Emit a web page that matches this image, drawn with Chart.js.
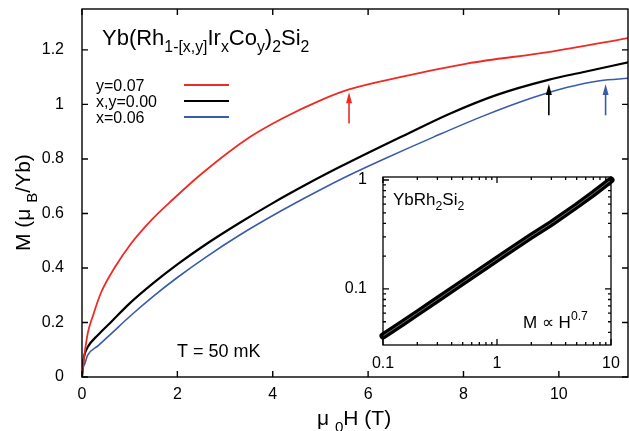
<!DOCTYPE html>
<html lang="en">
<head>
<meta charset="UTF-8">
<title>Yb(Rh,Ir,Co)2Si2 magnetization</title>
<style>
    body { margin: 0; padding: 0; background: #fff; }
    .wrap { position: relative; width: 629px; height: 431px; }
    #mainChart { position: absolute; left: 0; top: 0; }
    #insetChart { position: absolute; left: 340px; top: 168px; }
</style>
</head>
<body>
<div class="wrap">
    <canvas id="mainChart" width="629" height="431"></canvas>
    <canvas id="insetChart" width="285" height="205"></canvas>
</div>
<script src="https://cdn.jsdelivr.net/npm/chart.js"></script>
<script>
// main panel: M vs mu0H at T = 50 mK
const fieldCo = [0, 0.02, 0.05, 0.12, 0.23, 0.4, 0.68, 1.03, 1.45, 1.91, 2.54, 3.52, 4.22, 5.0, 5.6, 6.67, 8.07, 9.81, 11.47];
const momentCo = [0, 0.035, 0.08, 0.16, 0.225, 0.31, 0.40, 0.49, 0.575, 0.652, 0.75, 0.88, 0.95, 1.015, 1.055, 1.10, 1.15, 1.193, 1.244];

const fieldPure = [0, 0.02, 0.05, 0.12, 0.34, 0.6, 1.0, 1.5, 2.0, 2.6, 3.3, 4.0, 4.7, 5.4, 6.1, 6.8, 7.7, 8.7, 9.78, 10.5, 11.47];
const momentPure = [0, 0.05, 0.08, 0.11, 0.155, 0.20, 0.27, 0.345, 0.413, 0.487, 0.565, 0.638, 0.706, 0.77, 0.831, 0.89, 0.965, 1.035, 1.09, 1.118, 1.155];

const fieldIr = [0, 0.02, 0.06, 0.12, 0.34, 0.62, 1.0, 1.5, 2.0, 2.6, 3.3, 4.15, 4.9, 5.6, 6.3, 7.37, 8.41, 9.46, 10.16, 10.86, 11.47];
const momentIr = [0, 0.03, 0.05, 0.08, 0.115, 0.16, 0.222, 0.297, 0.365, 0.44, 0.52, 0.607, 0.678, 0.74, 0.797, 0.88, 0.957, 1.025, 1.062, 1.087, 1.096];

const seriesNames = ['y=0.07', 'x,y=0.00', 'x=0.06'];
const seriesColors = ['#ee2a24', '#000000', '#3a5ba9'];

const xTicks = [0, 2, 4, 6, 8, 10];
const yTicks = [0, 0.2, 0.4, 0.6, 0.8, 1, 1.2];
const yTickLabels = ['0', '0.2', '0.4', '0.6', '0.8', '1', '1.2'];

// arrows marking the kinks
const arrowField = [5.6, 9.79, 10.98];
const arrowFrom = [0.93, 0.96, 0.96];
const arrowTo = [1.045, 1.075, 1.075];

// inset: log-log of YbRh2Si2
const insetField = [0.1, 0.15, 0.2, 0.3, 0.5, 0.7, 1, 1.5, 2, 3, 5, 7, 10];
const insetMoment = [0.037, 0.049, 0.06, 0.08, 0.115, 0.146, 0.188, 0.25, 0.305, 0.40, 0.58, 0.75, 1.0];
const insetXTicks = [0.1, 1, 10];
const insetXLabels = ['0.1', '1', '10'];
const insetYTicks = [0.1, 1];
const insetYLabels = ['0.1', '1'];
const insetMinorX = [0.2, 0.3, 0.4, 0.5, 0.6, 0.7, 0.8, 0.9, 2, 3, 4, 5, 6, 7, 8, 9];
const insetMinorY = [0.04, 0.05, 0.06, 0.07, 0.08, 0.09, 0.2, 0.3, 0.4, 0.5, 0.6, 0.7, 0.8, 0.9];

const FONT = "'Liberation Sans', Arial, sans-serif";
Chart.defaults.font.family = FONT;
Chart.defaults.color = '#000';

const pts = (xs, ys) => xs.map((x, i) => ({ x: x, y: ys[i] }));

// text with sub/superscripts, parts = [[text, 'n'|'sub'|'sup'], ...]
function drawRich(ctx, x, y, parts, size) {
    parts.forEach(p => {
        let fs = size, dy = 0;
        if (p[1] === 'sub') { fs = size * 0.72; dy = size * 0.32; }
        if (p[1] === 'sup') { fs = size * 0.72; dy = -size * 0.45; }
        ctx.font = fs + 'px ' + FONT;
        ctx.fillText(p[0], x, y + dy);
        x += ctx.measureText(p[0]).width;
    });
}

// no automatic label padding, the chart area is set by layout padding alone
function noPad(s) {
    s.paddingTop = 0; s.paddingBottom = 0; s.paddingLeft = 0; s.paddingRight = 0;
}

const mainDecor = {
    id: 'mainDecor',
    afterDraw(chart) {
        const ctx = chart.ctx, a = chart.chartArea;
        const sx = chart.scales.x, sy = chart.scales.y;
        ctx.save();
        ctx.strokeStyle = '#000';
        ctx.lineWidth = 1.4;
        ctx.strokeRect(a.left, a.top, a.right - a.left, a.bottom - a.top);
        ctx.beginPath();
        xTicks.forEach(v => {
            const px = sx.getPixelForValue(v);
            ctx.moveTo(px, a.bottom); ctx.lineTo(px, a.bottom - 6);
            ctx.moveTo(px, a.top); ctx.lineTo(px, a.top + 6);
        });
        yTicks.forEach(v => {
            const py = sy.getPixelForValue(v);
            ctx.moveTo(a.left, py); ctx.lineTo(a.left + 6, py);
            ctx.moveTo(a.right, py); ctx.lineTo(a.right - 6, py);
        });
        ctx.stroke();

        // arrows
        arrowField.forEach((h, i) => {
            const px = sx.getPixelForValue(h);
            const y0 = sy.getPixelForValue(arrowFrom[i]);
            const y1 = sy.getPixelForValue(arrowTo[i]);
            ctx.strokeStyle = seriesColors[i];
            ctx.fillStyle = seriesColors[i];
            ctx.lineWidth = 1.6;
            ctx.beginPath();
            ctx.moveTo(px, y0); ctx.lineTo(px, y1 + 8);
            ctx.stroke();
            ctx.beginPath();
            ctx.moveTo(px, y1); ctx.lineTo(px - 3, y1 + 11); ctx.lineTo(px + 3, y1 + 11);
            ctx.closePath();
            ctx.fill();
        });

        // title
        ctx.fillStyle = '#000';
        ctx.textBaseline = 'alphabetic';
        ctx.textAlign = 'left';
        drawRich(ctx, 102, 45, [['Yb(Rh', 'n'], ['1-[x,y]', 'sub'], ['Ir', 'n'], ['x', 'sub'], ['Co', 'n'],
            ['y', 'sub'], [')', 'n'], ['2', 'sub'], ['Si', 'n'], ['2', 'sub']], 22);

        // legend
        const legY = [85, 101, 117];
        ctx.font = '16px ' + FONT;
        seriesNames.forEach((n, i) => {
            ctx.fillStyle = '#000';
            ctx.fillText(n, 96, legY[i] + 6);
            ctx.strokeStyle = seriesColors[i];
            ctx.lineWidth = i === 1 ? 2.2 : 1.8;
            ctx.beginPath();
            ctx.moveTo(184, legY[i]); ctx.lineTo(229, legY[i]);
            ctx.stroke();
        });

        ctx.fillStyle = '#000';
        ctx.font = '18px ' + FONT;
        ctx.fillText('T = 50 mK', 177, 357);

        // axis titles
        drawRich(ctx, 317, 425, [['\u03bc ', 'n'], ['0', 'sub'], ['H (T)', 'n']], 21);
        ctx.save();
        ctx.translate(30, 251);
        ctx.rotate(-Math.PI / 2);
        drawRich(ctx, 0, 0, [['M (\u03bc ', 'n'], ['B', 'sub'], ['/Yb)', 'n']], 21);
        ctx.restore();
        ctx.restore();
    }
};

new Chart(document.getElementById('mainChart'), {
    type: 'scatter',
    data: {
        datasets: [
            { label: seriesNames[0], data: pts(fieldCo, momentCo), borderColor: seriesColors[0], borderWidth: 1.8 },
            { label: seriesNames[1], data: pts(fieldPure, momentPure), borderColor: seriesColors[1], borderWidth: 2.2 },
            { label: seriesNames[2], data: pts(fieldIr, momentIr), borderColor: seriesColors[2], borderWidth: 1.6 }
        ].map(d => Object.assign(d, { showLine: true, pointRadius: 0, cubicInterpolationMode: 'monotone', fill: false }))
    },
    options: {
        responsive: false,
        animation: false,
        layout: { padding: { top: 9, right: 1, left: 0, bottom: 0 } },
        plugins: { legend: { display: false }, tooltip: { enabled: false } },
        scales: {
            x: {
                type: 'linear', min: 0, max: 11.45,
                afterBuildTicks: s => { s.ticks = xTicks.map(v => ({ value: v })); },
                afterFit: s => { s.height = 54; noPad(s); },
                grid: { display: false }, border: { display: false },
                ticks: { padding: 0, maxRotation: 0, autoSkip: false, font: { size: 16 }, color: '#000',
                    callback: v => String(v) }
            },
            y: {
                type: 'linear', min: 0, max: 1.35,
                afterBuildTicks: s => { s.ticks = yTicks.map(v => ({ value: v })); },
                afterFit: s => { s.width = 82; noPad(s); },
                grid: { display: false }, border: { display: false },
                ticks: { padding: 10, autoSkip: false, font: { size: 16 }, color: '#000',
                    callback: (v, i) => yTickLabels[i] }
            }
        }
    },
    plugins: [mainDecor]
});

const insetDecor = {
    id: 'insetDecor',
    afterDraw(chart) {
        const ctx = chart.ctx, a = chart.chartArea;
        const sx = chart.scales.x, sy = chart.scales.y;
        ctx.save();
        ctx.strokeStyle = '#000';
        ctx.lineWidth = 1.3;
        ctx.strokeRect(a.left, a.top, a.right - a.left, a.bottom - a.top);
        ctx.beginPath();
        const xt = (v, len) => {
            const px = sx.getPixelForValue(v);
            ctx.moveTo(px, a.bottom); ctx.lineTo(px, a.bottom - len);
            ctx.moveTo(px, a.top); ctx.lineTo(px, a.top + len);
        };
        const yt = (v, len) => {
            const py = sy.getPixelForValue(v);
            ctx.moveTo(a.left, py); ctx.lineTo(a.left + len, py);
            ctx.moveTo(a.right, py); ctx.lineTo(a.right - len, py);
        };
        insetXTicks.forEach(v => xt(v, 6));
        insetMinorX.forEach(v => xt(v, 3));
        insetYTicks.forEach(v => yt(v, 6));
        insetMinorY.forEach(v => yt(v, 3));
        ctx.stroke();

        ctx.fillStyle = '#000';
        ctx.textAlign = 'left';
        ctx.textBaseline = 'alphabetic';
        drawRich(ctx, 53, 37, [['YbRh', 'n'], ['2', 'sub'], ['Si', 'n'], ['2', 'sub']], 17);
        drawRich(ctx, 183, 160, [['M \u221d H', 'n'], ['0.7', 'sup']], 17);
        ctx.restore();
    }
};

new Chart(document.getElementById('insetChart'), {
    type: 'scatter',
    data: {
        datasets: [
            { data: pts(insetField, insetMoment), borderColor: '#000', borderWidth: 7, order: 2 },
            { data: pts(insetField, insetMoment), borderColor: '#6e6e6e', borderWidth: 1, order: 1 }
        ].map(d => Object.assign(d, { showLine: true, pointRadius: 0, borderCapStyle: 'round', clip: 5, tension: 0 }))
    },
    options: {
        responsive: false,
        animation: false,
        layout: { padding: { top: 9, right: 14, left: 0, bottom: 0 } },
        plugins: { legend: { display: false }, tooltip: { enabled: false } },
        scales: {
            x: {
                type: 'logarithmic', min: 0.1, max: 10,
                afterBuildTicks: s => { s.ticks = insetXTicks.map(v => ({ value: v })); },
                afterFit: s => { s.height = 28; noPad(s); },
                grid: { display: false }, border: { display: false },
                ticks: { padding: 1, maxRotation: 0, autoSkip: false, font: { size: 16 }, color: '#000',
                    callback: (v, i) => insetXLabels[i] }
            },
            y: {
                type: 'logarithmic', min: 0.0306, max: 1.065,
                afterBuildTicks: s => { s.ticks = insetYTicks.map(v => ({ value: v })); },
                afterFit: s => { s.width = 43; noPad(s); },
                grid: { display: false }, border: { display: false },
                ticks: { padding: 8, autoSkip: false, font: { size: 16 }, color: '#000',
                    callback: (v, i) => insetYLabels[i] }
            }
        }
    },
    plugins: [insetDecor]
});
</script>
</body>
</html>
